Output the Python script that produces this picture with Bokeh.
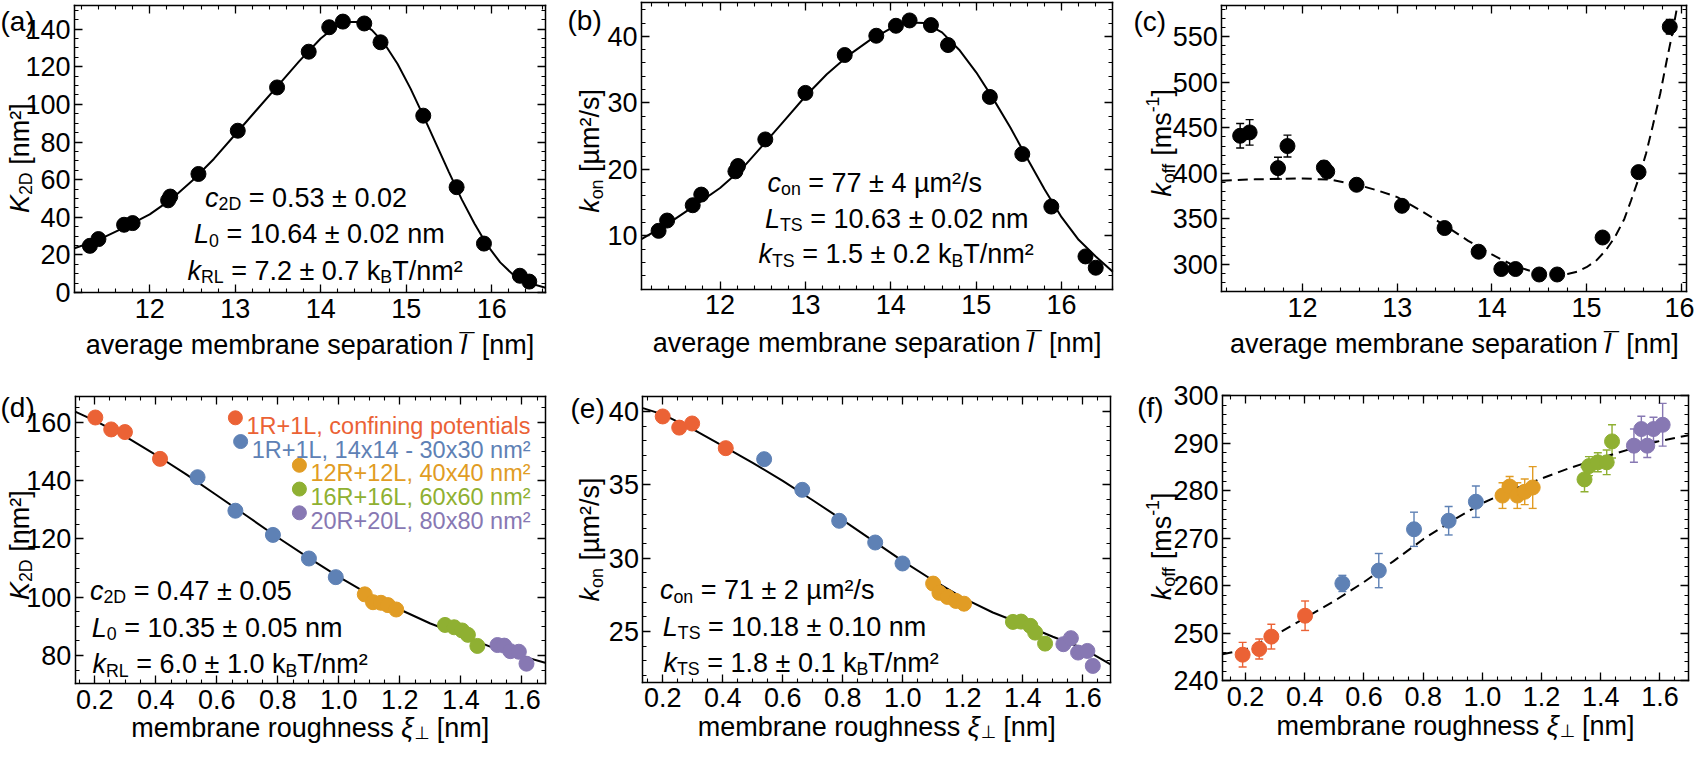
import numpy as np
from bokeh.plotting import figure
from bokeh.layouts import row, column
from bokeh.models import (Label, LinearAxis, FixedTicker, PrintfTickFormatter,
                          Range1d, ColumnDataSource, Whisker, TeeHead)
from bokeh.embed import file_html
from bokeh.resources import INLINE

FONT = "Liberation Sans"
RED, BLUE, YEL, GRN, PUR = "#EB6235", "#5E81B5", "#E19C24", "#8FB032", "#8778B3"

# ---------------- data ----------------
# (a) K2D vs average membrane separation
a_x = [11.30, 11.40, 11.70, 11.80, 12.215, 12.24, 12.57, 13.03, 13.49, 13.86, 14.10, 14.26, 14.51, 14.70, 15.20, 15.59, 15.91, 16.33, 16.44]
a_y = [24.8, 28.4, 36.0, 36.9, 49.0, 51.0, 63.0, 86.0, 109.0, 128.0, 141.0, 144.0, 143.0, 133.0, 94.0, 56.0, 26.0, 8.9, 5.8]
a_fit_x = [11.12, 11.4, 11.7, 12.0, 12.25, 12.5, 12.75, 13.0, 13.25, 13.5, 13.75, 14.0, 14.15, 14.3, 14.45, 14.6, 14.75, 14.9, 15.05, 15.2, 15.35, 15.5, 15.65, 15.8, 15.95, 16.1, 16.25, 16.4, 16.63]
a_fit_y = [23.5, 28.0, 34.5, 41.5, 49.5, 59.5, 71.0, 84.0, 97.0, 110.0, 123.0, 135.0, 140.5, 143.8, 143.8, 139.5, 132.0, 121.5, 108.5, 94.0, 79.0, 64.0, 49.5, 36.5, 25.0, 16.0, 9.5, 5.5, 2.5]

# (b) kon vs average membrane separation
b_x = [11.28, 11.38, 11.68, 11.78, 12.18, 12.21, 12.53, 13.00, 13.46, 13.83, 14.06, 14.22, 14.47, 14.67, 15.16, 15.54, 15.88, 16.28, 16.40]
b_y = [10.75, 12.3, 14.6, 16.2, 19.7, 20.5, 24.5, 31.5, 37.2, 40.1, 41.6, 42.4, 41.7, 38.7, 30.9, 22.3, 14.4, 6.9, 5.2]
b_fit_x = [11.08, 11.4, 11.7, 12.0, 12.25, 12.5, 12.75, 13.0, 13.25, 13.5, 13.75, 14.0, 14.2, 14.4, 14.6, 14.8, 15.0, 15.2, 15.4, 15.6, 15.8, 16.0, 16.2, 16.4, 16.6]
b_fit_y = [9.5, 11.9, 14.5, 17.2, 20.0, 23.6, 27.3, 31.0, 34.3, 37.1, 39.4, 41.2, 42.1, 42.0, 40.6, 38.0, 34.6, 30.6, 26.3, 21.6, 17.0, 12.8, 9.4, 6.9, 4.6]

# (c) koff vs average membrane separation
c_x = [11.34, 11.44, 11.74, 11.84, 12.225, 12.26, 12.57, 13.05, 13.50, 13.86, 14.10, 14.25, 14.50, 14.69, 15.17, 15.55, 15.88]
c_y = [441.3, 445.0, 405.8, 430.0, 406.5, 402.0, 387.5, 364.4, 340.0, 314.0, 295.0, 295.0, 289.0, 289.0, 329.6, 401.4, 561.0]
c_err = [13.4, 14.0, 12.0, 12.0, 7.0, 4.0, 3.0, 3.0, 3.0, 3.0, 3.0, 3.0, 3.0, 3.0, 4.0, 5.0, 8.0]
c_fit_x = [11.146, 11.5, 12.0, 12.3, 12.6, 12.8, 13.0, 13.25, 13.5, 13.75, 14.0, 14.1, 14.25, 14.5, 14.7, 14.8, 14.9, 15.0, 15.1, 15.2, 15.3, 15.4, 15.47, 15.55, 15.63, 15.7, 15.78, 15.85, 15.9, 15.96]
c_fit_y = [392, 393.5, 394.5, 393, 387, 381, 374, 359, 343, 326, 311, 305.5, 298, 290, 288, 289.5, 292, 297, 304, 315, 330, 350, 370, 394, 422, 452, 488, 525, 550, 584]

# (d) K2D vs roughness, five system groups
d_red_x = [0.202, 0.254, 0.299, 0.414]
d_red_y = [161.7, 157.6, 156.7, 147.5]
d_blue_x = [0.537, 0.661, 0.784, 0.902, 0.990]
d_blue_y = [141.2, 129.7, 121.4, 113.3, 106.9]
d_yel_x = [1.085, 1.112, 1.138, 1.161, 1.188]
d_yel_y = [101.0, 98.3, 98.1, 97.3, 95.8]
d_grn_x = [1.348, 1.378, 1.404, 1.423, 1.454]
d_grn_y = [90.5, 89.7, 88.6, 87.1, 83.3]
d_pur_x = [1.520, 1.542, 1.562, 1.590, 1.615]
d_pur_y = [83.6, 83.4, 81.5, 81.3, 77.2]
d_fit_x = [0.136, 0.2, 0.3, 0.4, 0.5, 0.6, 0.7, 0.8, 0.9, 1.0, 1.1, 1.2, 1.3, 1.4, 1.5, 1.6, 1.676]
d_fit_y = [163.7, 160.6, 155.2, 148.9, 142.2, 135.0, 127.8, 120.5, 113.6, 107.0, 100.9, 95.8, 91.0, 87.0, 82.9, 79.8, 77.5]

# (e) kon vs roughness
e_red_x = [0.200, 0.255, 0.298, 0.410]
e_red_y = [39.66, 38.90, 39.18, 37.50]
e_blue_x = [0.538, 0.665, 0.788, 0.908, 0.999]
e_blue_y = [36.75, 34.66, 32.55, 31.07, 29.64]
e_yel_x = [1.101, 1.122, 1.149, 1.177, 1.204]
e_yel_y = [28.27, 27.64, 27.36, 27.09, 26.90]
e_grn_x = [1.367, 1.394, 1.425, 1.441, 1.474]
e_grn_y = [25.66, 25.68, 25.39, 24.93, 24.18]
e_pur_x = [1.535, 1.560, 1.584, 1.615, 1.633]
e_pur_y = [24.14, 24.55, 23.57, 23.68, 22.66]
e_fit_x = [0.134, 0.2, 0.3, 0.4, 0.5, 0.6, 0.7, 0.8, 0.9, 1.0, 1.1, 1.2, 1.3, 1.4, 1.5, 1.6, 1.692]
e_fit_y = [40.23, 39.8, 38.8, 37.66, 36.5, 35.27, 33.95, 32.6, 31.2, 29.8, 28.5, 27.3, 26.3, 25.5, 24.65, 23.86, 22.77]

# (f) koff vs roughness, with error bars
f_red_x = [0.190, 0.246, 0.287, 0.401]
f_red_y = [245.5, 246.7, 249.3, 253.7]
f_red_e = [2.6, 2.1, 2.6, 3.1]
f_blue_x = [0.527, 0.650, 0.769, 0.886, 0.978]
f_blue_y = [260.5, 263.2, 271.9, 273.7, 277.7]
f_blue_e = [1.7, 3.6, 3.6, 3.0, 3.3]
f_yel_x = [1.068, 1.092, 1.118, 1.143, 1.170]
f_yel_y = [279.0, 280.9, 279.0, 279.8, 280.7]
f_yel_e = [2.7, 2.1, 2.7, 2.7, 4.4]
f_grn_x = [1.345, 1.360, 1.390, 1.420, 1.438]
f_grn_y = [282.4, 285.2, 286.0, 286.0, 290.4]
f_grn_e = [2.6, 2.0, 2.0, 2.6, 3.5]
f_pur_x = [1.512, 1.537, 1.557, 1.578, 1.609]
f_pur_y = [289.5, 293.0, 289.5, 293.0, 293.9]
f_pur_e = [3.5, 2.7, 2.5, 2.5, 4.5]
f_fit_x = [0.122, 0.2, 0.3, 0.4, 0.5, 0.6, 0.7, 0.8, 0.9, 1.0, 1.1, 1.2, 1.3, 1.4, 1.5, 1.6, 1.697]
f_fit_y = [245.6, 246.6, 249.6, 253.2, 256.8, 260.8, 265.2, 269.8, 273.8, 277.4, 280.2, 282.6, 284.9, 286.9, 288.8, 290.5, 291.7]

legend_labels = ["1R+1L, confining potentials", "1R+1L, 14x14 - 30x30 nm²",
                 "12R+12L, 40x40 nm²", "16R+16L, 60x60 nm²", "20R+20L, 80x80 nm²"]
legend_colors = [RED, BLUE, YEL, GRN, PUR]

x_sep_ticks = [12, 13, 14, 15, 16]
x_rough_ticks = [0.2, 0.4, 0.6, 0.8, 1.0, 1.2, 1.4, 1.6]

# ---------------- text helpers ----------------
AW = {' ': 278, '(': 333, ')': 333, '+': 584, ',': 278, '-': 333, '.': 278, '/': 278,
      '=': 584, '[': 278, ']': 278, '±': 549, 'µ': 576, '²': 333, '¹': 333, '¯': 552,
      'ξ': 480, '⊥': 838,
      'a': 556, 'b': 556, 'c': 500, 'd': 556, 'e': 556, 'f': 278, 'g': 556, 'h': 556, 'i': 222,
      'j': 222, 'k': 500, 'l': 222, 'm': 833, 'n': 556, 'o': 556, 'p': 556, 'q': 556, 'r': 333,
      's': 500, 't': 278, 'u': 556, 'v': 500, 'w': 722, 'x': 500, 'y': 500, 'z': 500,
      'A': 667, 'B': 667, 'C': 722, 'D': 722, 'E': 667, 'F': 611, 'K': 667, 'L': 556,
      'R': 722, 'S': 667, 'T': 611}


def tw(s, fs):
    return sum(AW.get(ch, 556) for ch in s) / 1000.0 * fs


def rich(p, x, y, parts, fs, color="black", align="left", angle=0.0, dx=0.0, dy=0.0):
    """parts: (text, kind) with kind n / i / sub / sup / bar / sym (symbol subscript)."""
    items = []
    pos = 0.0
    for text, kind in parts:
        f = fs * 0.66 if kind in ("sub", "sup", "sym") else fs
        if kind == "bar":
            items.append((text, kind, f, pos))
            continue
        stripped = text.lstrip(" ")
        lead = tw(text[:len(text) - len(stripped)], f)
        items.append((stripped.rstrip(" "), kind, f, pos + lead))
        pos += tw(text, f)
    total = pos
    start = {"left": 0.0, "center": -total / 2.0, "right": -total}[align]
    for text, kind, f, a in items:
        if not text:
            continue
        rise = {"sub": -0.24 * fs, "sym": -0.17 * fs, "sup": 0.36 * fs, "bar": 0.03 * fs}.get(kind, 0.0)
        along = start + a
        talign = "left"
        if kind == "bar":
            along = start + a - tw("l", fs) / 2.0 + 0.12 * fs
            talign = "center"
        if angle == 0.0:
            xo, yo = dx + along, dy + rise
        else:
            xo, yo = dx - rise, dy + along
        p.add_layout(Label(x=x, y=y, x_offset=xo, y_offset=yo, text=text,
                           text_font="DejaVu Sans" if kind == "sym" else FONT,
                           text_font_size=f"{f:.1f}px",
                           text_font_style="italic" if kind == "i" else "normal",
                           text_color=color, text_align=talign,
                           text_baseline="alphabetic", angle=angle))
    return total


def ticks(major, lo, hi, step):
    minor = [round(v, 4) for v in np.arange(lo, hi + 1e-9, step)]
    return FixedTicker(ticks=major, minor_ticks=minor)


FS_TICK = 27
FS_LAB = 27
FS_ANN = 27
FS_PAN = 28
FS_LEG = 23.5


class Panel:
    """A figure whose frame fills the whole canvas; the data box (L,R,T,B in px
    from the canvas top-left) is framed by four axes fixed at its edges."""

    def __init__(self, W, H, L, R, T, B, xr, yr, xt, yt, xfmt, yfmt):
        self.W, self.H = W, H
        x0, x1 = xr
        y0, y1 = yr
        self.kx = (x1 - x0) / (R - L)
        self.ky = (y1 - y0) / (B - T)
        self.xs = x0 - L * self.kx
        self.ye = y1 + T * self.ky
        xe = self.xs + W * self.kx
        ys = self.ye - H * self.ky
        self.xr, self.yr = xr, yr
        self.box = (L, R, T, B)
        p = figure(width=W, height=H, x_range=Range1d(self.xs, xe), y_range=Range1d(ys, self.ye),
                   output_backend="svg", toolbar_location=None,
                   x_axis_location=None, y_axis_location=None,
                   min_border_left=0, min_border_right=0, min_border_top=0, min_border_bottom=0)
        p.grid.visible = False
        p.outline_line_color = None
        p.background_fill_color = "white"
        p.border_fill_color = "white"
        specs = [("below", y0, (x0, x1), xt, xfmt, True, 6),
                 ("above", y1, (x0, x1), xt, xfmt, False, 0),
                 ("left", x0, (y0, y1), yt, yfmt, True, 4),
                 ("right", x1, (y0, y1), yt, yfmt, False, 0)]
        for side, loc, bounds, ticker, fmt, show, standoff in specs:
            ax = LinearAxis(fixed_location=loc, bounds=bounds, ticker=ticker,
                            formatter=PrintfTickFormatter(format=fmt))
            ax.axis_line_color = "black"
            ax.axis_line_width = 1.5
            ax.axis_line_cap = "square"
            ax.major_tick_line_color = "black"
            ax.major_tick_line_width = 1.3
            ax.minor_tick_line_color = "black"
            ax.minor_tick_line_width = 1.1
            ax.major_tick_in = 8
            ax.major_tick_out = 0
            ax.minor_tick_in = 4
            ax.minor_tick_out = 0
            ax.major_label_text_font = FONT
            ax.major_label_text_font_size = f"{FS_TICK}px"
            ax.major_label_text_color = "black"
            ax.major_label_standoff = standoff
            if not show:
                ax.major_label_text_alpha = 0.0
            p.add_layout(ax, side)
        self.p = p

    def X(self, px):
        return self.xs + px * self.kx

    def Y(self, py):
        return self.ye - py * self.ky

    def decorate(self, panel, pan_xy, ylab, ylab_px, ylab_shift, xlab, xlab_py):
        L, R, T, B = self.box
        rich(self.p, self.X(pan_xy[0]), self.Y(pan_xy[1]), [(panel, "n")], FS_PAN)
        rich(self.p, self.X(ylab_px), self.Y((T + B) / 2.0 + ylab_shift), ylab, FS_LAB,
             align="center", angle=np.pi / 2)
        rich(self.p, self.X((L + R) / 2.0), self.Y(xlab_py), xlab, FS_LAB, align="center")

    def annotate(self, lines, lefts, bases):
        for parts, l, b in zip(lines, lefts, bases):
            rich(self.p, self.X(l), self.Y(b), parts, FS_ANN)


def errbars(p, xs, ys, es, color):
    src = ColumnDataSource(dict(x=xs, lo=[y - e for y, e in zip(ys, es)],
                                hi=[y + e for y, e in zip(ys, es)]))
    p.add_layout(Whisker(base="x", lower="lo", upper="hi", source=src,
                         line_color=color, line_width=1.4, level="underlay",
                         lower_head=TeeHead(size=8, line_color=color, line_width=1.4),
                         upper_head=TeeHead(size=8, line_color=color, line_width=1.4)))


sep_label = [("average membrane separation ", "n"), ("l", "i"), ("¯", "bar"), ("  [nm]", "n")]
rough_label = [("membrane roughness ", "n"), ("ξ", "i"), ("⊥", "sym"), (" [nm]", "n")]
K_label = [("K", "i"), ("2D", "sub"), (" [nm²]", "n")]
kon_label = [("k", "i"), ("on", "sub"), (" [µm²/s]", "n")]
koff_label = [("k", "i"), ("off", "sub"), (" [ms", "n"), ("-1", "sup"), ("]", "n")]

MS = 15
H1 = 361          # top-row canvas height
H2 = 743 - H1     # bottom-row canvas height
OY = 370 - (8 + H1)  # shift so bottom-row boxes keep their page position

# ---------------- panel (a) ----------------
A = Panel(564, H1, 74, 545, 5.3, 292, (11.12, 16.63), (0.0, 152.4),
          ticks(x_sep_ticks, 11.2, 16.6, 0.2), ticks([0, 20, 40, 60, 80, 100, 120, 140], 0, 150, 5), "%d", "%d")
A.p.line(a_fit_x, a_fit_y, line_color="black", line_width=2)
A.p.scatter(a_x, a_y, size=MS, color="black")
A.decorate("(a)", (0, 20.5), K_label, 19.5, 9, sep_label, 344)
A.annotate([[("c", "i"), ("2D", "sub"), (" = 0.53 ± 0.02", "n")],
            [("L", "i"), ("0", "sub"), (" = 10.64 ± 0.02 nm", "n")],
            [("k", "i"), ("RL", "sub"), (" = 7.2 ± 0.7 k", "n"), ("B", "sub"), ("T/nm²", "n")]],
           [204.5, 193.5, 186.9], [197, 233.7, 270.3])

# ---------------- panel (b) ----------------
Bp = Panel(560, H1, 77, 548.3, 2, 288.7, (11.08, 16.60), (1.97, 45.1),
           ticks(x_sep_ticks, 11.2, 16.6, 0.2), ticks([10, 20, 30, 40], 2, 44, 2), "%d", "%d")
Bp.p.line(b_fit_x, b_fit_y, line_color="black", line_width=2)
Bp.p.scatter(b_x, b_y, size=MS, color="black")
Bp.decorate("(b)", (3, 20), kon_label, 25.7, 5, sep_label, 342)
Bp.annotate([[("c", "i"), ("on", "sub"), (" = 77 ± 4 µm²/s", "n")],
             [("L", "i"), ("TS", "sub"), (" = 10.63 ± 0.02 nm", "n")],
             [("k", "i"), ("TS", "sub"), (" = 1.5 ± 0.2 k", "n"), ("B", "sub"), ("T/nm²", "n")]],
            [203, 200.5, 194], [182, 218, 253.7])

# ---------------- panel (c) ----------------
C = Panel(570, H1, 97.3, 562.3, 5.3, 291.3, (11.146, 16.06), (270.0, 584.0),
          ticks(x_sep_ticks, 11.2, 16.0, 0.2), ticks([300, 350, 400, 450, 500, 550], 270, 580, 10), "%d", "%d")
errbars(C.p, c_x, c_y, c_err, "black")
C.p.line(c_fit_x, c_fit_y, line_color="black", line_width=2, line_dash="10 6")
C.p.scatter(c_x, c_y, size=MS, color="black")
C.decorate("(c)", (9, 20.5), koff_label, 37.6, -6, sep_label, 343.5)

# ---------------- panel (d) ----------------
D = Panel(564, H2, 74.7, 544.6, 34.3 + OY, 321 + OY, (0.136, 1.676), (70.4, 168.8),
          ticks(x_rough_ticks, 0.15, 1.65, 0.05), ticks([80, 100, 120, 140, 160], 75, 165, 5), "%.1f", "%d")
D.p.line(d_fit_x, d_fit_y, line_color="black", line_width=2)
for xs, ys, col in [(d_red_x, d_red_y, RED), (d_blue_x, d_blue_y, BLUE), (d_yel_x, d_yel_y, YEL),
                    (d_grn_x, d_grn_y, GRN), (d_pur_x, d_pur_y, PUR)]:
    D.p.scatter(xs, ys, size=MS, color=col)
D.decorate("(d)", (0, 44.5 + OY), K_label, 19.5, 5, rough_label, 365 + OY)
D.annotate([[("c", "i"), ("2D", "sub"), (" = 0.47 ± 0.05", "n")],
            [("L", "i"), ("0", "sub"), (" = 10.35 ± 0.05 nm", "n")],
            [("k", "i"), ("RL", "sub"), (" = 6.0 ± 1.0 k", "n"), ("B", "sub"), ("T/nm²", "n")]],
           [89.4, 91.3, 92], [228.3 + OY, 265 + OY, 301.7 + OY])
for i, (txt, col) in enumerate(zip(legend_labels, legend_colors)):
    base = 63.3 + OY + i * 23.75
    wtxt = rich(D.p, D.X(530), D.Y(base), [(txt, "n")], FS_LEG, color=col, align="right")
    D.p.scatter([D.X(530 - wtxt - 4 - 7)], [D.Y(base - 8)], size=14, color=col)

# ---------------- panel (e) ----------------
E = Panel(560, H2, 78.4, 546, 34.3 + OY, 319.7 + OY, (0.134, 1.692), (21.55, 41.0),
          ticks(x_rough_ticks, 0.15, 1.65, 0.05), ticks([25, 30, 35, 40], 22, 41, 1), "%.1f", "%d")
E.p.line(e_fit_x, e_fit_y, line_color="black", line_width=2)
for xs, ys, col in [(e_red_x, e_red_y, RED), (e_blue_x, e_blue_y, BLUE), (e_yel_x, e_yel_y, YEL),
                    (e_grn_x, e_grn_y, GRN), (e_pur_x, e_pur_y, PUR)]:
    E.p.scatter(xs, ys, size=MS, color=col)
E.decorate("(e)", (6, 46 + OY), kon_label, 25.7, 0, rough_label, 364 + OY)
E.annotate([[("c", "i"), ("on", "sub"), (" = 71 ± 2 µm²/s", "n")],
            [("L", "i"), ("TS", "sub"), (" = 10.18 ± 0.10 nm", "n")],
            [("k", "i"), ("TS", "sub"), (" = 1.8 ± 0.1 k", "n"), ("B", "sub"), ("T/nm²", "n")]],
           [95.4, 98.3, 99], [227.7 + OY, 264.3 + OY, 300 + OY])

# ---------------- panel (f) ----------------
F = Panel(570, H2, 98, 564.2, 33.3 + OY, 318.3 + OY, (0.122, 1.697), (240.0, 300.0),
          ticks(x_rough_ticks, 0.15, 1.65, 0.05), ticks([240, 250, 260, 270, 280, 290, 300], 240, 300, 2), "%.1f", "%d")
groups_f = [(f_red_x, f_red_y, f_red_e, RED), (f_blue_x, f_blue_y, f_blue_e, BLUE),
            (f_yel_x, f_yel_y, f_yel_e, YEL), (f_grn_x, f_grn_y, f_grn_e, GRN),
            (f_pur_x, f_pur_y, f_pur_e, PUR)]
for xs, ys, es, col in groups_f:
    errbars(F.p, xs, ys, es, col)
F.p.line(f_fit_x, f_fit_y, line_color="black", line_width=2, line_dash="10 6")
for xs, ys, es, col in groups_f:
    F.p.scatter(xs, ys, size=MS, color=col)
F.decorate("(f)", (12.7, 45 + OY), koff_label, 37.6, 8, rough_label, 363 + OY)

layout = column(row(A.p, Bp.p, C.p), row(D.p, E.p, F.p))
open("out.html", "w").write(file_html(layout, INLINE))
